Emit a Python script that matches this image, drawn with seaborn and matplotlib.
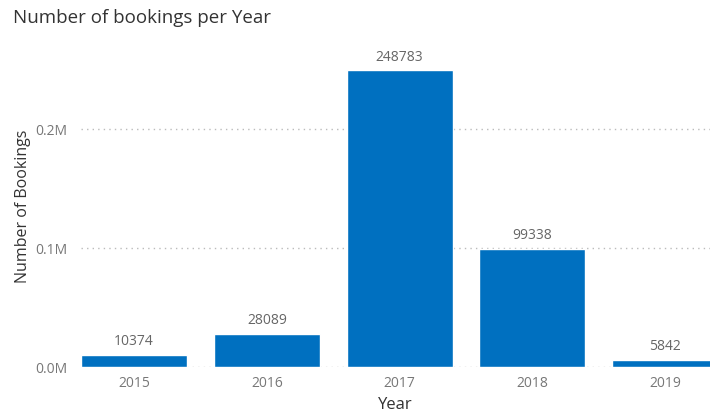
import matplotlib
matplotlib.use("Agg")
import matplotlib.pyplot as plt
import seaborn as sns
import pandas as pd
from matplotlib.ticker import FuncFormatter

years = ["2015", "2016", "2017", "2018", "2019"]
bookings = [10374, 28089, 248783, 99338, 5842]
yticks = [0, 100000, 200000]

df = pd.DataFrame({"Year": years, "Bookings": bookings})

sns.set_theme(style="white")
plt.rcParams['font.family'] = ['Open Sans', 'DejaVu Sans']

W, H = 710, 414
fig = plt.figure(figsize=(W / 100, H / 100), dpi=100)
ax = fig.add_axes([81 / W, 1 - 368 / H, (710 - 81) / W, (368 - 45) / H])

sns.barplot(data=df, x="Year", y="Bookings", color="#0070C0", width=0.8,
            saturation=1, ax=ax, zorder=3)

ax.set_xlim(-0.4, 4.338)
ax.set_ylim(0, 271000)
ax.set_yticks(yticks)
ax.yaxis.set_major_formatter(FuncFormatter(lambda v, p: f"{v/1e6:.1f}M"))
ax.grid(axis="y", linestyle=(0, (1, 3)), color="#bbbbbb", linewidth=1, zorder=0)
ax.grid(axis="x", visible=False)
for s in ax.spines.values():
    s.set_visible(False)
ax.tick_params(axis="both", length=0, labelsize=10, colors="#777777")
ax.tick_params(axis="y", pad=10)
ax.tick_params(axis="x", pad=6)

for c in ax.containers:
    ax.bar_label(c, labels=[str(v) for v in bookings], padding=5,
                 fontsize=10, color="#666666")

ax.set_xlabel("Year", fontsize=12, color="#333333", labelpad=4)
ax.set_ylabel("Number of Bookings", fontsize=11.5, color="#333333", labelpad=3)

fig.text(13 / W, 1 - 18 / H, "Number of bookings per Year", fontsize=13.5,
         color="#333333", va="center", ha="left")

fig.savefig("out.png", dpi=100)
